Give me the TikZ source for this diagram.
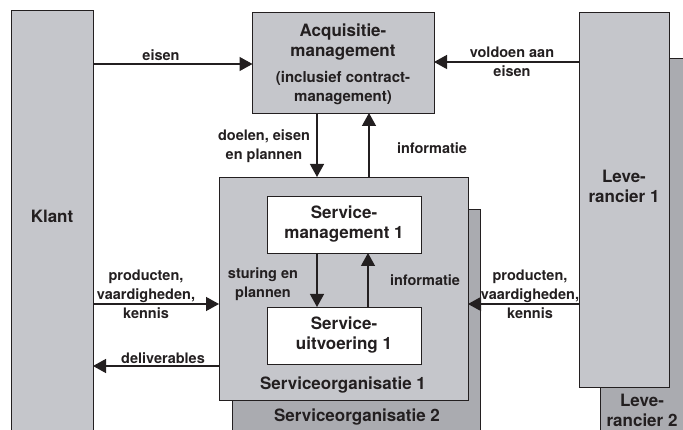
\documentclass[tikz,border=0pt]{standalone}
\usepackage{fontspec}
\setmainfont{TeX Gyre Heros}
\usetikzlibrary{arrows.meta}
\definecolor{boxlight}{RGB}{197,198,203}
\definecolor{boxdark}{RGB}{170,171,176}
\definecolor{ink}{RGB}{35,31,32}

\begin{document}
\begin{tikzpicture}[x=1pt,y=-1pt,
  panel/.style={draw=ink, line width=0.9pt, inner sep=0pt, outer sep=0pt, anchor=north west,
    text=ink, align=center, font=\fontsize{17}{20}\selectfont\bfseries},
  title/.style={font=\fontsize{17}{20}\selectfont\bfseries, text=ink, align=center, inner sep=0pt},
  lbl/.style={font=\fontsize{14.5}{19}\selectfont\bfseries, text=ink, align=center, inner sep=0pt},
  flow/.style={draw=ink, line width=1.3pt, -{Triangle[length=13pt,width=14pt]}},
]
\useasboundingbox (0,0) rectangle (683,430);
\clip (0,0) rectangle (683,430);

% actors and organisations
\node[panel, fill=boxlight, minimum width=82pt, minimum height=440pt] (klant) at (11,10) {};
\node[panel, fill=boxlight, minimum width=181.5pt, minimum height=101pt] (acq) at (252.5,12) {};
\node[panel, fill=boxdark, minimum width=110pt, minimum height=400pt] (lev2) at (600,58) {};
\node[panel, fill=boxlight, minimum width=90pt, minimum height=375pt] (lev1) at (579,12) {};
\node[panel, fill=boxdark, minimum width=248pt, minimum height=240pt] (so2) at (232,209) {};
\node[panel, fill=boxlight, minimum width=249pt, minimum height=223pt] (so1) at (219,177) {};
\node[panel, fill=white, minimum width=154pt, minimum height=57pt] (sm) at (267,196) {Service-\\management 1};
\node[panel, fill=white, minimum width=154pt, minimum height=57pt] (su) at (267,307) {Service-\\uitvoering 1};

% titles
\node[title] (klanttxt) at (52,216) {Klant};
\node[title] (acqtxt) at (343,42) {Acquisitie-\\management};
\node[lbl, font=\fontsize{15}{19}\selectfont\bfseries] (acqsub) at (343,88) {(inclusief contract-\\management)};
\node[title] (lev1txt) at (624,186) {Leve-\\rancier 1};
\node[title] (lev2txt) at (642,410) {Leve-\\rancier 2};
\node[title] (so1txt) at (343,385) {Serviceorganisatie 1};
\node[title] (so2txt) at (357,417) {Serviceorganisatie 2};

% flows
\draw[flow] (klant.east |- 0,64) -- (acq.west |- 0,64);
\draw[flow] (lev1.west |- 0,62) -- (acq.east |- 0,62);
\draw[flow] (acq.south -| 317,0) -- (so1.north -| 317,0);
\draw[flow] (so1.north -| 369,0) -- (acq.south -| 369,0);
\draw[flow] (sm.south -| 317,0) -- (su.north -| 317,0);
\draw[flow] (su.north -| 368,0) -- (sm.south -| 368,0);
\draw[flow] (klant.east |- 0,304) -- (so1.west |- 0,304);
\draw[flow] (lev1.west |- 0,304) -- (so1.east |- 0,304);
\draw[flow] (so1.west |- 0,366) -- (klant.east |- 0,366);

% flow labels
\node[lbl] (l1) at (161,55) {eisen};
\node[lbl] (l2) at (512,62) {voldoen aan\\eisen};
\node[lbl] (l3) at (264,146) {doelen, eisen\\en plannen};
\node[lbl] (l4) at (432,148) {informatie};
\node[lbl] (l5) at (263,284) {sturing en\\plannen};
\node[lbl] (l6) at (425,280) {informatie};
\node[lbl] (l7) at (146,294) {producten,\\vaardigheden,\\kennis};
\node[lbl] (l8) at (530,294) {producten,\\vaardigheden,\\kennis};
\node[lbl] (l9) at (163,358) {deliverables};
\end{tikzpicture}
\end{document}
